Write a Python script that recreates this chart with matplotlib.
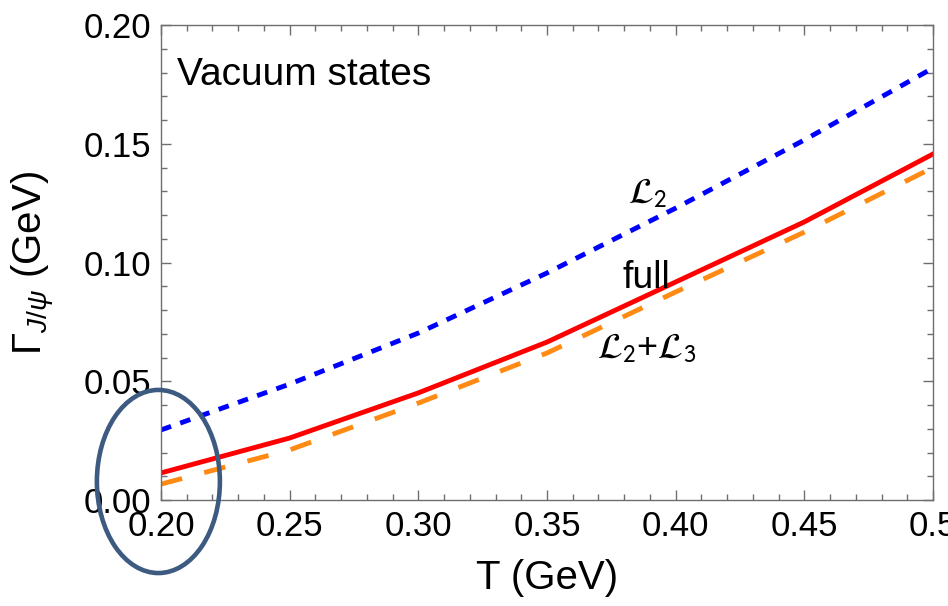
#!/usr/bin/env python3
import matplotlib
matplotlib.use('Agg')
import matplotlib.pyplot as plt
from matplotlib.patches import Ellipse
from matplotlib.ticker import MultipleLocator

# temperature grid and widths (GeV)
T = [0.20, 0.25, 0.30, 0.35, 0.40, 0.45, 0.50]
gamma_L2 = [0.0295, 0.0488, 0.0703, 0.0956, 0.1229, 0.1516, 0.1819]
gamma_full = [0.0114, 0.0261, 0.0451, 0.0665, 0.0918, 0.1171, 0.1457]
gamma_L2L3 = [0.0067, 0.0211, 0.0408, 0.0619, 0.0876, 0.1128, 0.1400]

xticks = [0.20, 0.25, 0.30, 0.35, 0.40, 0.45, 0.50]
xticklabels = ['0.20', '0.25', '0.30', '0.35', '0.40', '0.45', '0.5']
yticks = [0.00, 0.05, 0.10, 0.15, 0.20]
yticklabels = ['0.00', '0.05', '0.10', '0.15', '0.20']

plt.rcParams['font.family'] = ['Liberation Sans', 'DejaVu Sans']
plt.rcParams['mathtext.fontset'] = 'custom'
plt.rcParams['mathtext.rm'] = 'Liberation Sans'
plt.rcParams['mathtext.it'] = 'Liberation Sans:italic'

fig = plt.figure(figsize=(9.48, 6.06), dpi=100)
ax = fig.add_axes([0.1698, 0.1749, 0.8144, 0.7838])

lw = 3.5
ax.plot(T, gamma_L2, color='#0000ff', lw=lw, dashes=(2.2, 2.0))
ax.plot(T, gamma_full, color='#ff0000', lw=lw)
ax.plot(T, gamma_L2L3, color='#ff8a14', lw=lw, dashes=(4.5, 4.7))

ax.set_xlim(0.2, 0.5)
ax.set_ylim(0.0, 0.2)
ax.set_xticks(xticks)
ax.set_xticklabels(xticklabels)
ax.set_yticks(yticks)
ax.set_yticklabels(yticklabels)
ax.xaxis.set_minor_locator(MultipleLocator(0.01))
ax.yaxis.set_minor_locator(MultipleLocator(0.01))

for s in ax.spines.values():
    s.set_color('#6e6e6e')
    s.set_linewidth(1.0)
ax.tick_params(which='both', direction='in', top=True, right=True,
               color='#6e6e6e', width=1.0)
ax.tick_params(which='major', length=7, labelsize=25, pad=7)
ax.tick_params(which='minor', length=4)

ax.set_xlabel('T (GeV)', fontsize=29)
ax.set_ylabel(r'$\Gamma_{J/\psi}$ (GeV)', fontsize=29)
ax.xaxis.set_label_coords(0.5, -0.125)
ax.yaxis.set_label_coords(-0.135, 0.5)

ax.text(0.0207, 0.874, 'Vacuum states', transform=ax.transAxes,
        fontsize=28, va='baseline', ha='left')
ax.text(0.3815, 0.1251, r'$\mathcal{L}_\mathsf{2}$', fontsize=26,
        math_fontfamily='stix', va='baseline', ha='left')
ax.text(0.3795, 0.0893, 'full', fontsize=27, va='baseline', ha='left')
ax.text(0.3694, 0.0598, r'$\mathcal{L}_\mathsf{2}$+$\mathcal{L}_\mathsf{3}$',
        fontsize=26, math_fontfamily='stix', va='baseline', ha='left')

# highlight ring round the low temperature end
ring = Ellipse((0.199, 0.0078), 0.0478, 0.0771, fill=False,
               edgecolor='#3d5a80', lw=3.3, clip_on=False, zorder=5)
ax.add_patch(ring)

fig.savefig('out.png', dpi=100)
